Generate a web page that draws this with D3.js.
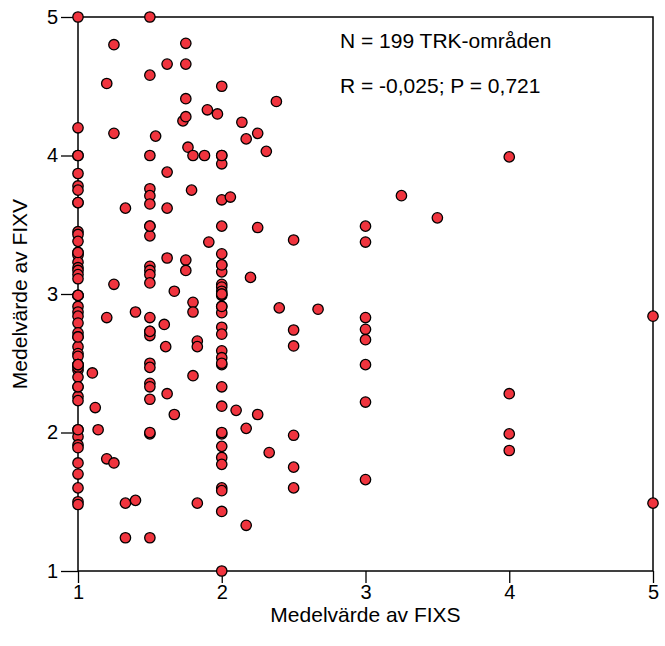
<!DOCTYPE html>
<html>
<head>
<meta charset="utf-8">
<script src="https://cdn.jsdelivr.net/npm/d3@7"></script>
<style>
  body { margin: 0; background: #fff; }
  text { font-family: "Liberation Sans", Arial, sans-serif; fill: #000; }
</style>
</head>
<body>
<div id="chart-area"></div>
<script>

// Data (means per TRK-area)
let fixsOne = [5.0, 4.2, 4.0, 3.87, 3.78, 3.75, 3.66, 3.45, 3.43, 3.38, 3.30, 3.28, 3.23, 3.19, 3.17,
	3.14, 3.11, 2.99, 2.91, 2.87, 2.84, 2.79, 2.72, 2.69, 2.62, 2.57, 2.55, 2.49, 2.45, 2.47, 2.40,
	2.33, 2.26, 2.23, 2.02, 1.97, 1.91, 1.89, 1.78, 1.70, 1.60, 1.50, 1.48,
	4.0, 2.99, 2.99, 2.49, 2.49, 2.02, 3.66, 3.30, 2.69, 2.33];

let fixsX = [1.1, 1.12, 1.14, 1.2, 1.2, 1.2, 1.25, 1.25, 1.25, 1.25, 1.33, 1.33, 1.33, 1.4, 1.4,
	1.5, 1.5, 1.5, 1.5, 1.5, 1.5, 1.5, 1.5, 1.5, 1.5, 1.5, 1.5, 1.5, 1.5, 1.5, 1.5, 1.5, 1.5, 1.5, 1.5, 1.5, 1.5,
	1.54, 1.6, 1.61, 1.62, 1.62, 1.62, 1.62, 1.62, 1.67, 1.67, 1.73,
	1.75, 1.75, 1.75, 1.75, 1.765, 1.75, 1.75, 1.79, 1.8, 1.8, 1.8, 1.8, 1.83, 1.83, 1.83,
	1.88, 1.9, 1.91, 1.97,
	2, 2, 2, 2, 2, 2, 2, 2, 2, 2, 2, 2, 2, 2, 2, 2, 2, 2, 2, 2, 2, 2, 2, 2, 2, 2, 2, 2, 2,
	2.06, 2.1, 2.14, 2.17, 2.17, 2.17, 2.2, 2.25, 2.25, 2.25, 2.31, 2.33, 2.38, 2.4,
	2.5, 2.5, 2.5, 2.5, 2.5, 2.5, 2.67,
	3, 3, 3, 3, 3, 3, 3, 3, 3.25, 3.5, 4, 4, 4, 4, 5, 5,
	1.5, 1.5, 2, 2, 2, 2, 2, 2, 2, 1.5];

let fixvY = [2.43, 2.18, 2.02, 4.52, 2.83, 1.81, 4.8, 4.16, 3.07, 1.78, 3.62, 1.49, 1.24, 2.87, 1.51,
	5.0, 4.58, 4.0, 3.76, 3.71, 3.65, 3.49, 3.42, 3.20, 3.17, 3.14, 3.08, 2.83, 2.73, 2.70, 2.50, 2.47, 2.355, 2.33, 2.24, 1.99, 1.24,
	4.14, 2.78, 2.62, 4.66, 3.88, 3.62, 3.26, 2.28, 3.02, 2.13, 4.25,
	4.81, 4.66, 4.41, 4.28, 4.06, 3.245, 3.17, 3.75, 4.0, 2.94, 2.87, 2.41, 2.66, 2.62, 1.49,
	4.0, 4.33, 3.375, 4.30,
	4.5, 4.0, 3.94, 3.68, 3.49, 3.29, 3.21, 3.16, 3.07, 3.05, 3.02, 2.99, 2.91, 2.865, 2.76, 2.71, 2.59, 2.54, 2.49, 2.33, 2.19, 1.99, 1.90, 1.82, 1.77, 1.60, 1.58, 1.43, 1.0,
	3.70, 2.16, 4.24, 4.12, 2.03, 1.33, 3.12, 4.16, 3.48, 2.13, 4.03, 1.855, 4.39, 2.90,
	3.39, 2.74, 2.625, 1.98, 1.75, 1.60, 2.89,
	3.49, 3.375, 2.83, 2.745, 2.67, 2.49, 2.22, 1.66, 3.71, 3.55, 3.99, 2.28, 1.99, 1.87, 2.84, 1.49,
	3.49, 2.0, 3.0, 3.0, 2.5, 2.0, 4.0, 3.21, 2.91, 2.73];

let xTicks = [1, 2, 3, 4, 5];
let yTicks = [1, 2, 3, 4, 5];

let statLines = ["N = 199 TRK-områden", "R = -0,025; P = 0,721"];

let data = fixsOne.map(v => ({x: 1, y: v}))
	.concat(fixsX.map((v, i) => ({x: v, y: fixvY[i]})));

drawChart(data);

function drawChart(data){

	let margin = {top: 17, right: 12, bottom: 75, left: 78},
		width = 665 - margin.left - margin.right,
		height = 646 - margin.top - margin.bottom;

	let svg = d3.select("#chart-area").append("svg")
		.attr("width", width + margin.left + margin.right)
		.attr("height", height + margin.top + margin.bottom)
		.append("g")
		.attr("transform", "translate(" + margin.left + "," + margin.top + ")");

	let x = d3.scaleLinear().domain([1, 5]).range([0, width]);
	let y = d3.scaleLinear().domain([1, 5]).range([height, 0]);

	// frame
	svg.append("rect")
		.attr("width", width)
		.attr("height", height)
		.attr("fill", "none")
		.attr("stroke", "#000")
		.attr("stroke-width", 1.5);

	let xAxis = svg.append("g")
		.attr("transform", "translate(0," + height + ")")
		.call(d3.axisBottom(x).tickValues(xTicks).tickSize(12).tickPadding(2).tickFormat(d3.format("d")));

	let yAxis = svg.append("g")
		.call(d3.axisLeft(y).tickValues(yTicks).tickSize(17).tickPadding(3).tickFormat(d3.format("d")));

	[xAxis, yAxis].forEach(a => {
		a.select(".domain").remove();
		a.selectAll("line").attr("stroke", "#000").attr("stroke-width", 1.3);
		a.selectAll("text").style("font-size", "20px").style("font-family", "'Liberation Sans', Arial, sans-serif").attr("fill", "#000");
	});

	svg.append("text")
		.attr("x", width / 2)
		.attr("y", height + 51)
		.attr("text-anchor", "middle")
		.style("font-size", "21px")
		.text("Medelvärde av FIXS");

	svg.append("text")
		.attr("transform", "translate(-51," + (height / 2) + ") rotate(-90)")
		.attr("text-anchor", "middle")
		.style("font-size", "21px")
		.text("Medelvärde av FIXV");

	svg.selectAll(".stat")
		.data(statLines)
		.enter()
		.append("text")
		.attr("class", "stat")
		.attr("x", 262)
		.attr("y", (d, i) => 31 + i * 45)
		.style("font-size", "21px")
		.text(d => d);

	svg.selectAll(".point")
		.data(data)
		.enter()
		.append("circle")
		.attr("class", "point")
		.attr("cx", d => x(d.x))
		.attr("cy", d => y(d.y))
		.attr("r", 5.2)
		.attr("fill", "#f0343e")
		.attr("stroke", "#000")
		.attr("stroke-width", 1.3);
}

</script>
</body>
</html>
